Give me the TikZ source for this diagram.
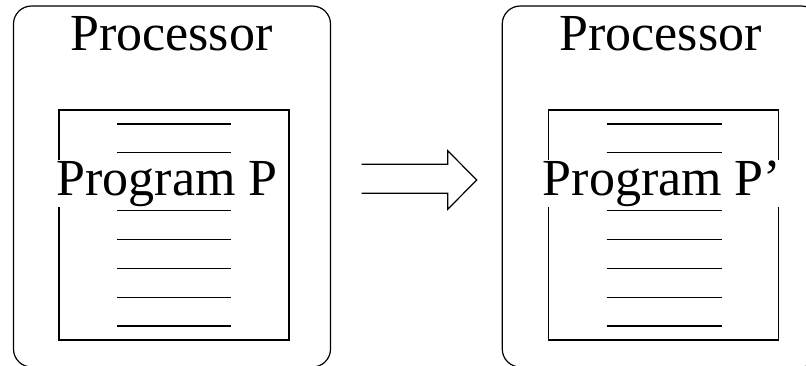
\documentclass[tikz,border=0pt]{standalone}
\usepackage{fontspec}
\setmainfont{Liberation Serif}
\begin{document}
\begin{tikzpicture}[x=1pt,y=-1pt,
  line width=1.2pt,
  cpu/.style={draw,rounded corners=18pt,inner sep=0pt,minimum width=317pt,minimum height=361pt},
  prog/.style={draw,inner sep=0pt,minimum width=230pt,minimum height=230pt},
  codeline/.style={line width=1.2pt},
  big/.style={font=\fontsize{52}{52}\selectfont,inner sep=0pt,anchor=base},
  label/.style={big,fill=white,text height=35pt,text depth=12pt}]
\useasboundingbox (0,0) rectangle (806,365);

% processors
\node[cpu] (cpuA) at (172,186.5) {};
\node[cpu] (cpuB) at (660.75,186.5) {};

% code lines inside each program listing
\foreach \k in {0,...,7}{
  \draw[codeline] (117,124+\k*28.857) -- (231,124+\k*28.857);
  \draw[codeline] (606.7,124+\k*28.857) -- (721.7,124+\k*28.857);
}

% program listings
\node[prog] (progA) at (174,225) {};
\node[prog] (progB) at (663.85,225) {};

% titles
\node[big] (titleA) at (171.3,50) {Processor};
\node[big] (titleB) at (660.5,50) {Processor};
\node[label] (nameA) at (167,195) {Program P};
\node[label] (nameB) at (662,195) {Program P’};

% transformation arrow
\draw[line join=miter] (361.7,164.3) -- (447.7,164.3) -- (447.7,150.7) -- (476.7,180)
  -- (447.7,209.3) -- (447.7,193.3) -- (361.7,193.3);
\end{tikzpicture}
\end{document}
